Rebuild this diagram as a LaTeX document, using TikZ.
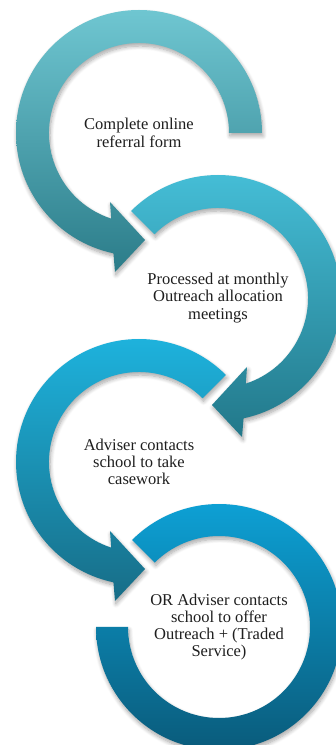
\documentclass[tikz,border=0pt]{standalone}
\usepackage{fontspec}
\setmainfont{Liberation Serif}
\usetikzlibrary{shadows.blur}
\definecolor{ringAtop}{HTML}{6FC6D1}
\definecolor{ringAbot}{HTML}{2B7C89}
\definecolor{ringBtop}{HTML}{46C0D9}
\definecolor{ringBbot}{HTML}{22788A}
\definecolor{ringCtop}{HTML}{1EB5E0}
\definecolor{ringCbot}{HTML}{176D87}
\definecolor{ringDtop}{HTML}{0DA3D8}
\definecolor{ringDbot}{HTML}{0A5877}
\definecolor{txtcol}{HTML}{1E1E1E}
\begin{document}
\begin{tikzpicture}[x=1pt,y=1pt,
  ringshape/.style={blur shadow={shadow xshift=1pt,shadow yshift=-3pt,shadow blur radius=4pt,shadow blur steps=8,shadow opacity=35}},
  steptext/.style={align=center,text=txtcol,font=\fontsize{16.5}{17.3}\selectfont,inner sep=0pt}]
\useasboundingbox (0,0) rectangle (336,745);
\clip (0,0) rectangle (336,745);
% ring 1
\begin{scope}[shift={(139,612)}]
\shade[ringshape,top color=ringAtop,bottom color=ringAbot]
  (0:90) -- (0:123) arc[start angle=0,end angle=258,radius=123]
  -- (-24,-139) -- (6,-107) -- (-29,-69) -- (252:90)
  arc[start angle=252,end angle=0,radius=90] -- cycle;
\end{scope}
% ring 2
\begin{scope}[shift={(218,447)}]
\shade[ringshape,top color=ringBtop,bottom color=ringBbot]
  (135:90) -- (135:123) arc[start angle=135,end angle=-78,radius=123]
  -- (24,-139) -- (-6,-107) -- (29,-69) -- (-72:90)
  arc[start angle=-72,end angle=135,radius=90] -- cycle;
\end{scope}
% ring 3
\begin{scope}[shift={(139,283)}]
\shade[ringshape,top color=ringCtop,bottom color=ringCbot]
  (45:90) -- (45:123) arc[start angle=45,end angle=258,radius=123]
  -- (-24,-139) -- (6,-107) -- (-29,-69) -- (252:90)
  arc[start angle=252,end angle=45,radius=90] -- cycle;
\end{scope}
% ring 4
\begin{scope}[shift={(219,118)}]
\shade[ringshape,top color=ringDtop,bottom color=ringDbot]
  (135:91) -- (135:123) arc[start angle=135,end angle=-180,radius=123]
  -- (-180:91) arc[start angle=-180,end angle=135,radius=91] -- cycle;
\end{scope}
\node[steptext] (t1) at (139,612) {Complete online\\referral form};
\node[steptext] (t2) at (218,447) {Processed at monthly\\Outreach allocation\\meetings};
\node[steptext] (t3) at (139,283) {Adviser contacts\\school to take\\casework};
\node[steptext] (t4) at (219,118) {OR Adviser contacts\\school to offer\\Outreach + (Traded\\Service)};
\end{tikzpicture}
\end{document}
